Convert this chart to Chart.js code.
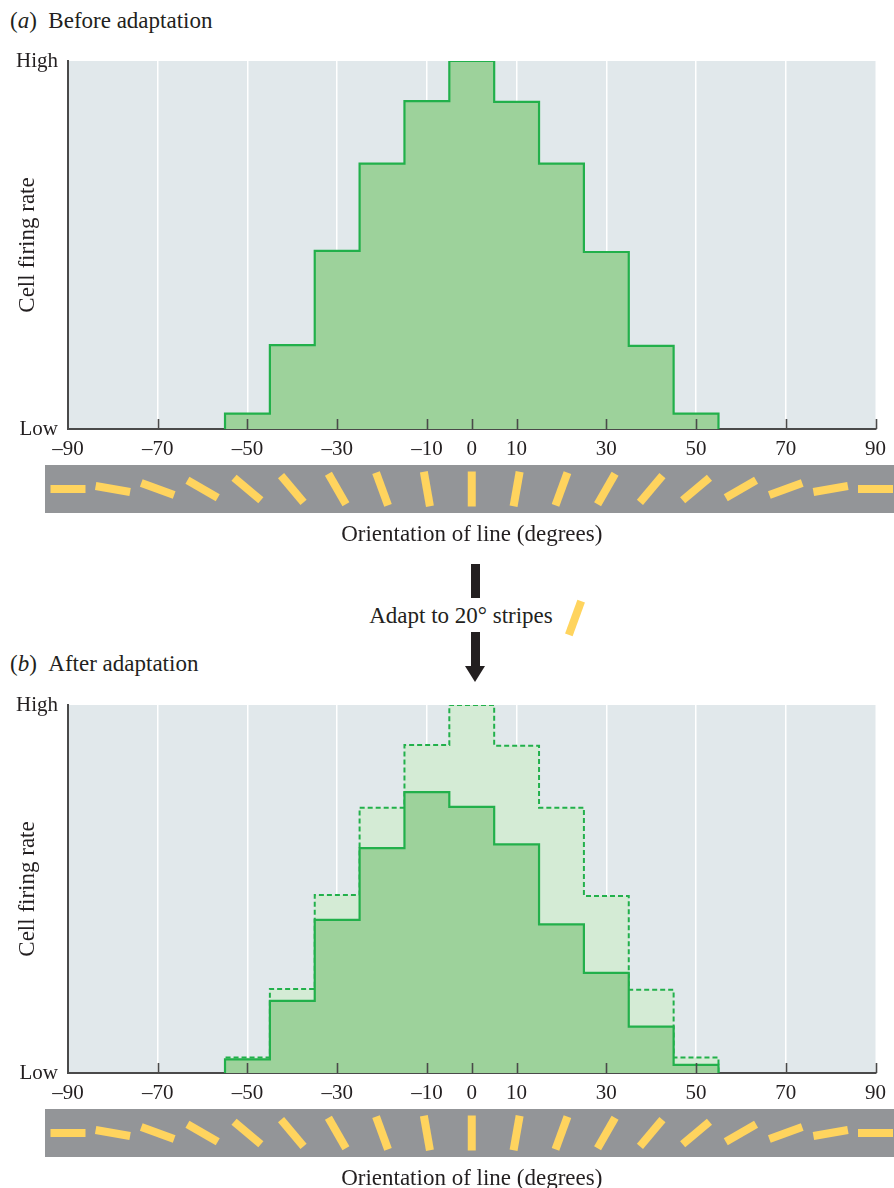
<!DOCTYPE html>
<html>
<head>
<meta charset="utf-8">
<script src="https://cdn.jsdelivr.net/npm/chart.js@4.4.1/dist/chart.umd.min.js"></script>
<style>
  html, body { margin:0; padding:0; background:#fff; width:894px; height:1188px; overflow:hidden; }
  body { position:relative; font-family:"Liberation Serif", "DejaVu Serif", serif; color:#231F20; }
  .panel-title { position:absolute; left:10px; font-size:23px; line-height:28px; white-space:nowrap; }
  .cwrap { position:absolute; left:0; width:894px; height:560px; }
  .shaft { position:absolute; background:#231F20; width:9px; left:471px; }
  .head { position:absolute; left:465px; top:666px; width:0; height:0;
          border-left:10.5px solid transparent; border-right:10.5px solid transparent; border-top:16px solid #231F20; }
  .adapt { position:absolute; left:361px; width:200px; text-align:center; top:602px; font-size:23px; line-height:28px; white-space:nowrap; }
  .ystripe { position:absolute; left:571px; top:600px; width:8px; height:36px; background:#FFD45E; transform:rotate(20deg); }
</style>
</head>
<body>
<div class="panel-title" style="top:7px">(<i>a</i>)&ensp;Before adaptation</div>
<div class="cwrap" style="top:0px"><canvas id="c1" width="894" height="560"></canvas></div>

<div class="shaft" style="top:564px;height:34px"></div>
<div class="adapt">Adapt to 20° stripes</div>
<div class="ystripe"></div>
<div class="shaft" style="top:632px;height:36px"></div>
<div class="head"></div>

<div class="panel-title" style="top:650px">(<i>b</i>)&ensp;After adaptation</div>
<div class="cwrap" style="top:644px"><canvas id="c2" width="894" height="560"></canvas></div>

<script>
// ---- data ----
const binCenters = [-50, -40, -30, -20, -10, 0, 10, 20, 30, 40, 50];
const beforeRates = [4.2, 22.8, 48.4, 72.1, 89.1, 100, 88.9, 72.1, 48.1, 22.6, 4.2];
const afterRates  = [3.7, 19.6, 41.6, 61.1, 76.3, 72.3, 62.1, 40.4, 27.2, 12.6, 2.2];
const xTickValues = [-90, -70, -50, -30, -10, 0, 10, 30, 50, 70, 90];
const yTickValues = [0, 100];
const yTickLabels = ['Low', 'High'];
const stripeAngles = [-90, -80, -70, -60, -50, -40, -30, -20, -10, 0, 10, 20, 30, 40, 50, 60, 70, 80, 90];

// ---- styles ----
const FONT = '"Liberation Serif", "DejaVu Serif", serif';
const TEXT = '#231F20';
const GREEN = '#22B04B';
const FILL_DARK = '#9DD29B';
const FILL_LIGHT = '#D4EBD5';
const PLOT_BG = '#E1E8EB';
const AXIS = '#4A4A4A';

function stepPoints(centers, values) {
  const h = (centers[1] - centers[0]) / 2;
  const pts = [{x: centers[0] - h, y: 0}];
  centers.forEach((c, i) => pts.push({x: c - h, y: values[i]}));
  const last = centers.length - 1;
  pts.push({x: centers[last] + h, y: values[last]});
  pts.push({x: centers[last] + h, y: 0});
  return pts;
}

const decorPlugin = {
  id: 'decor',
  beforeDraw(chart) {
    const {ctx, chartArea: a} = chart;
    ctx.save();
    ctx.fillStyle = PLOT_BG;
    ctx.fillRect(a.left, a.top, a.right - a.left, a.bottom - a.top);
    ctx.restore();
  },
  afterDatasetsDraw(chart) {
    const {ctx} = chart;
    const xs = chart.scales.x;
    ctx.save();
    ctx.strokeStyle = AXIS;
    ctx.lineWidth = 1.6;
    xTickValues.forEach(v => {
      if (v === xTickValues[0]) return;
      const px = Math.round(xs.getPixelForValue(v)) + 0.5;
      ctx.beginPath();
      ctx.moveTo(px, xs.top);
      ctx.lineTo(px, xs.top - 10);
      ctx.stroke();
    });
    ctx.restore();
  },
  afterDraw(chart) {
    const {ctx, chartArea: a} = chart;
    const xs = chart.scales.x;
    const bandTop = xs.top + 36, bandH = 48;
    ctx.save();
    ctx.fillStyle = '#939598';
    ctx.fillRect(a.left - 23, bandTop, chart.width - (a.left - 23), bandH);
    ctx.fillStyle = '#FFD45E';
    const cy = bandTop + bandH / 2;
    stripeAngles.forEach(deg => {
      const cx = xs.getPixelForValue(deg);
      ctx.save();
      ctx.translate(cx, cy);
      ctx.rotate(deg * Math.PI / 180);
      ctx.fillRect(-4, -17.5, 8, 35);
      ctx.restore();
    });
    ctx.restore();
  }
};

function makeOptions() {
  return {
    responsive: false,
    animation: false,
    events: [],
    layout: { padding: { top: 61, right: 14, left: 0, bottom: 0 } },
    plugins: { legend: { display: false }, tooltip: { enabled: false }, title: { display: false } },
    elements: { point: { radius: 0 }, line: { tension: 0 } },
    scales: {
      x: {
        type: 'linear', min: -90, max: 90,
        afterBuildTicks: s => { s.ticks = xTickValues.map(v => ({value: v})); },
        afterFit: s => { s.height = 131; },
        ticks: {
          autoSkip: false, maxRotation: 0, padding: 8, color: TEXT,
          font: { family: FONT, size: 21 },
          callback: v => (v < 0 ? '\u2013' + Math.abs(v) : String(v))
        },
        grid: {
          drawTicks: false, lineWidth: 1.5,
          color: c => (c.tick && (c.tick.value === -90 || c.tick.value === 90)) ? 'rgba(0,0,0,0)' : '#FFFFFF'
        },
        border: { display: true, color: AXIS, width: 2 },
        title: {
          display: true, text: 'Orientation of line (degrees)', color: TEXT,
          font: { family: FONT, size: 23 }, padding: { top: 0, bottom: 11 }
        }
      },
      y: {
        type: 'linear', min: 0, max: 100,
        afterBuildTicks: s => { s.ticks = yTickValues.map(v => ({value: v})); },
        afterFit: s => { s.width = 68; },
        ticks: {
          padding: 10, color: TEXT, font: { family: FONT, size: 21 },
          callback: v => yTickLabels[yTickValues.indexOf(v)]
        },
        grid: { display: false, drawTicks: false },
        border: { display: true, color: AXIS, width: 2 },
        title: {
          display: true, text: 'Cell firing rate', color: TEXT,
          font: { family: FONT, size: 23 }, padding: { top: 14, bottom: 0 }
        }
      }
    }
  };
}

new Chart(document.getElementById('c1'), {
  type: 'line',
  data: {
    datasets: [{
      label: 'Before adaptation',
      data: stepPoints(binCenters, beforeRates),
      stepped: 'before',
      borderColor: GREEN, borderWidth: 2.2,
      backgroundColor: FILL_DARK, fill: 'origin'
    }]
  },
  options: makeOptions(),
  plugins: [decorPlugin]
});

new Chart(document.getElementById('c2'), {
  type: 'line',
  data: {
    datasets: [{
      label: 'After adaptation',
      data: stepPoints(binCenters, afterRates),
      stepped: 'before',
      borderColor: GREEN, borderWidth: 2.2,
      backgroundColor: FILL_DARK, fill: 'origin'
    }, {
      label: 'Before adaptation',
      data: stepPoints(binCenters, beforeRates),
      stepped: 'before',
      borderColor: GREEN, borderWidth: 2, borderDash: [5, 3],
      backgroundColor: FILL_LIGHT, fill: 'origin'
    }]
  },
  options: makeOptions(),
  plugins: [decorPlugin]
});
</script>
</body>
</html>
